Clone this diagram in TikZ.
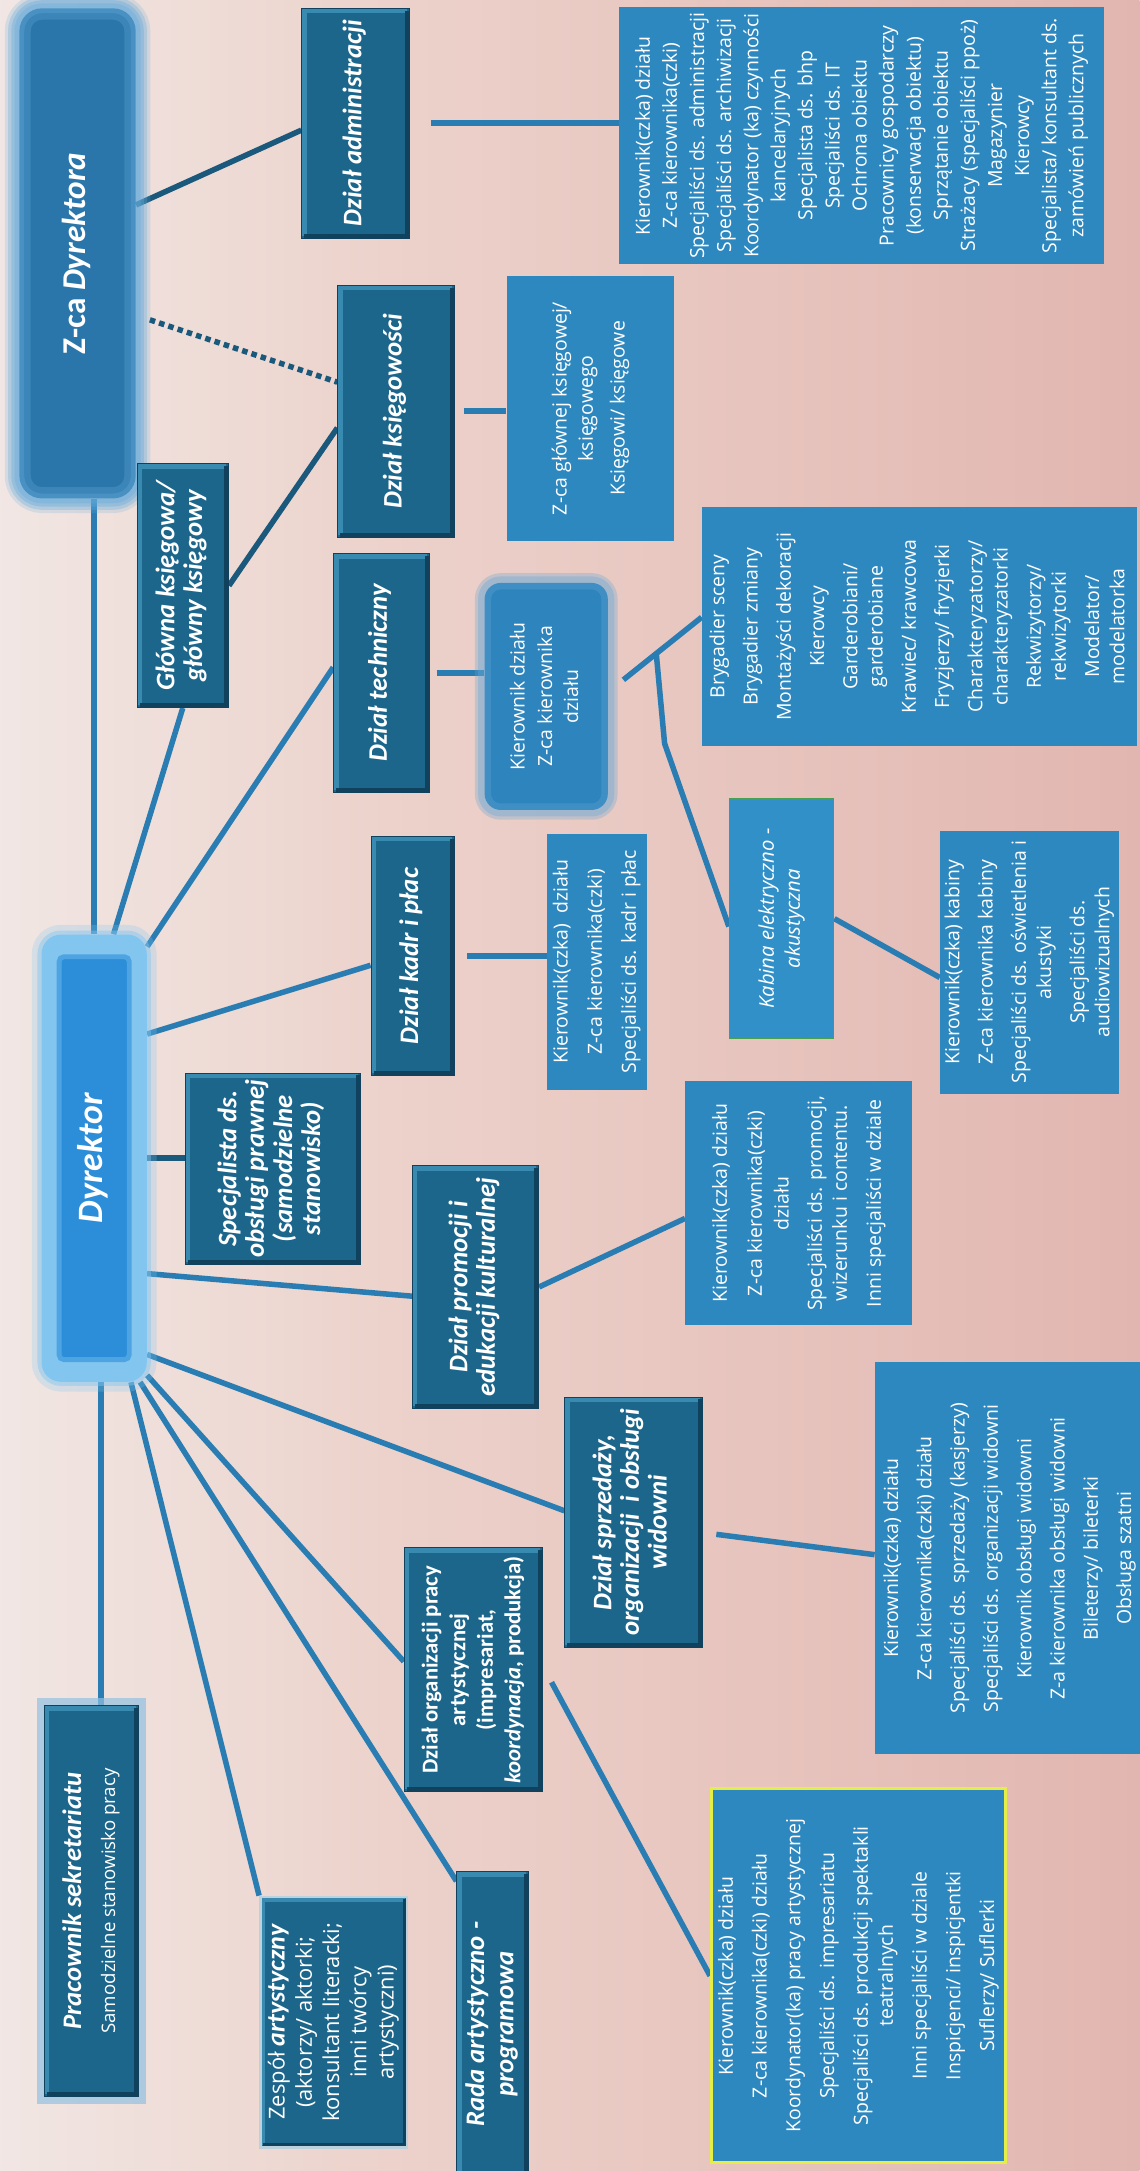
\documentclass[tikz,border=0pt]{standalone}
\usepackage{fontspec}
\setmainfont{Carlito}
\newfontfamily\staffsans{Open Sans}
\usepackage{graphicx}
\usepackage{tikz}
\definecolor{deptblue}{RGB}{28,102,140}
\definecolor{deptdark}{RGB}{16,66,94}
\definecolor{deptlight}{RGB}{56,138,176}
\definecolor{staffblue}{RGB}{46,136,192}
\definecolor{connblue}{RGB}{42,125,178}
\definecolor{conndark}{RGB}{26,88,124}
\definecolor{zcainner}{RGB}{42,118,170}
\definecolor{zcaglow}{RGB}{100,170,218}
\definecolor{dyrinner}{RGB}{44,142,216}
\definecolor{dyrglow}{RGB}{130,198,240}
\definecolor{kierinner}{RGB}{46,132,188}
\definecolor{kierglow}{RGB}{100,166,212}
\definecolor{kabinablue}{RGB}{50,144,200}
\definecolor{kabinaedge}{RGB}{72,160,80}
\definecolor{orgedge}{RGB}{228,238,70}
\definecolor{bgA}{RGB}{245,245,246}
\definecolor{bgB}{RGB}{243,239,238}
\definecolor{bgC}{RGB}{236,210,203}
\definecolor{bgD}{RGB}{226,182,176}
\definecolor{bgE}{RGB}{221,170,166}
\pgfdeclarehorizontalshading{paper}{100bp}{color(0bp)=(bgA); color(18bp)=(bgB); color(42bp)=(bgC); color(75bp)=(bgD); color(100bp)=(bgE)}
\pgfdeclarelayer{back}
\pgfdeclarelayer{wires}
\pgfsetlayers{back,wires,main}
\newcommand{\stafffont}{\staffsans\fontsize{12}{15.5}\selectfont}
\newcommand{\deptfont}{\fontsize{16.5}{17}\selectfont\bfseries\itshape}
\newcommand{\vtext}[1]{\rotatebox{90}{\begin{tabular}{@{}c@{}}#1\end{tabular}}}
\tikzstyle{dept}=[fill=deptblue, draw=deptdark, line width=.6pt, text=white, inner sep=0pt, font=\deptfont,
  path picture={
    \draw[deptlight, line width=3pt] ([shift={(1.5pt,1.5pt)}]path picture bounding box.south west) |- ([shift={(-1.5pt,-1.5pt)}]path picture bounding box.north east);
    \draw[deptdark, line width=2.5pt] ([shift={(1.5pt,1.5pt)}]path picture bounding box.south west) -| ([shift={(-1.5pt,-1.5pt)}]path picture bounding box.north east);
  }]
\tikzstyle{staff}=[fill=staffblue, text=white, inner sep=0pt, font=\stafffont]
\tikzstyle{zcabox}=[fill=zcainner, rounded corners=14pt, text=white, inner sep=0pt,
  font=\fontsize{20.5}{24}\selectfont\bfseries,
  preaction={draw=zcaglow, draw opacity=.2, line width=18pt},
  preaction={draw=zcaglow, draw opacity=.35, line width=10pt},
  postaction={draw=zcaglow, draw opacity=.3, line width=14pt},
  postaction={draw=zcaglow, draw opacity=.35, line width=6pt}]
\tikzstyle{dyrbox}=[fill=dyrglow, rounded corners=12pt, text=white, inner sep=0pt,
  font=\fontsize{22}{26}\selectfont\bfseries\itshape,
  preaction={draw=dyrglow, draw opacity=.25, line width=12pt},
  preaction={draw=dyrglow, draw opacity=.45, line width=5pt},
  path picture={
    \fill[dyrinner, rounded corners=3pt] ([shift={(.38cm,-.48cm)}]path picture bounding box.north west) rectangle ([shift={(-.38cm,.48cm)}]path picture bounding box.south east);
    \draw[dyrinner!60!dyrglow, line width=3pt, rounded corners=3pt] ([shift={(.38cm,-.48cm)}]path picture bounding box.north west) rectangle ([shift={(-.38cm,.48cm)}]path picture bounding box.south east);
  }]
\tikzstyle{kierbox}=[fill=kierinner, rounded corners=10pt, text=white, inner sep=0pt,
  font=\staffsans\fontsize{12}{16}\selectfont,
  preaction={draw=kierglow, draw opacity=.3, line width=12pt},
  postaction={draw=kierglow, draw opacity=.35, line width=8pt}]
\tikzstyle{pracbox}=[dept, preaction={draw=kierglow!70!white, draw opacity=.7, line width=9pt}]
\tikzstyle{kabinabox}=[fill=kabinablue, draw=kabinaedge, line width=1pt, text=white, inner sep=0pt,
  font=\staffsans\fontsize{12.5}{16}\selectfont\itshape]
\tikzstyle{conn}=[draw=connblue, line width=3.4pt]
\tikzstyle{darkconn}=[draw=conndark, line width=3.4pt]
\tikzstyle{dotconn}=[darkconn, dash pattern=on 3.4pt off 2.6pt]
\begin{document}
\begin{tikzpicture}[x=0.03cm, y=-0.03cm]
\useasboundingbox (0,0) rectangle (823,1568);
\begin{pgfonlayer}{back}
\shade[shading=paper] (0,0) rectangle (823,1568);
\end{pgfonlayer}

\node[zcabox, minimum width=2.52cm, minimum height=10.62cm] (zca) at (56,183) {\vtext{Z-ca \textit{Dyrektora}}};
\node[dept, minimum width=2.34cm, minimum height=4.98cm] (admin) at (257,89) {\vtext{Dział administracji}};
\node[staff, font=\staffsans\fontsize{12}{16.7}\selectfont, minimum width=10.5cm, minimum height=5.58cm] (adminlist) at (622,98) {\vtext{Kierownik(czka) działu\\ Z-ca kierownika(czki)\\ Specjaliści ds. administracji\\ Specjaliści ds. archiwizacji\\ Koordynator (ka) czynności\\ kancelaryjnych\\ Specjalista ds. bhp\\ Specjaliści ds. IT\\ Ochrona obiektu\\ Pracownicy gospodarczy\\ (konserwacja obiektu)\\ Sprzątanie obiektu\\ Strażacy (specjaliści ppoż)\\ Magazynier\\ Kierowcy\\ Specjalista/ konsultant ds.\\ zamówień publicznych}};
\node[dept, minimum width=2.52cm, minimum height=5.46cm] (ksieg) at (286,297) {\vtext{Dział księgowości}};
\node[staff, minimum width=3.63cm, minimum height=5.76cm] (zcaglist) at (426.5,295) {\vtext{Z-ca głównej księgowej/\\[.7pt] księgowego\\[4pt] Księgowi/ księgowe}};
\node[dept, minimum width=1.98cm, minimum height=5.28cm] (glowna) at (132,423) {\vtext{Główna księgowa/\\ główny księgowy}};
\node[dyrbox, minimum width=2.28cm, minimum height=9.69cm] (dyr) at (68,836.5) {\vtext{Dyrektor}};
\node[dept, minimum width=2.07cm, minimum height=5.16cm] (tech) at (275.5,486) {\vtext{Dział techniczny}};
\node[kierbox, minimum width=2.67cm, minimum height=4.92cm] (kier) at (394.5,503) {\vtext{Kierownik działu\\[1pt] Z-ca kierownika\\ działu}};
\node[staff, minimum width=9.42cm, minimum height=5.19cm] (techlist) at (664,452.5) {\vtext{Brygadier sceny\\[5pt] Brygadier zmiany\\[5pt] Montażyści dekoracji\\[5pt] Kierowcy\\[5pt] Garderobiani/\\ garderobiane\\[5pt] Krawiec/ krawcowa\\[5pt] Fryzjerzy/ fryzjerki\\[5pt] Charakteryzatorzy/\\ charakteryzatorki\\[5pt] Rekwizytorzy/\\ rekwizytorki\\[5pt] Modelator/\\ modelatorka}};
\node[kabinabox, minimum width=2.25cm, minimum height=5.19cm] (kabina) at (564.5,663.5) {\vtext{Kabina elektryczno -\\ akustyczna}};
\node[staff, minimum width=3.87cm, minimum height=5.7cm] (kabinylist) at (743.5,695) {\vtext{Kierownik(czka) kabiny\\[5pt] Z-ca kierownika kabiny\\[5pt] Specjaliści ds. oświetlenia i\\ akustyki\\[5pt] Specjaliści ds.\\ audiowizualnych}};
\node[dept, minimum width=1.8cm, minimum height=5.19cm] (kadr) at (298,690.5) {\vtext{Dział kadr i płac}};
\node[staff, minimum width=2.16cm, minimum height=5.55cm] (kadrlist) at (431,694.5) {\vtext{Kierownik(czka)~ działu\\[5.5pt] Z-ca kierownika(czki)\\[5.5pt] Specjaliści ds. kadr i płac}};
\node[dept, minimum width=3.78cm, minimum height=4.14cm] (spec) at (197,844) {\vtext{Specjalista ds.\\ obsługi prawnej\\ (samodzielne\\ stanowisko)}};
\node[dept, minimum width=2.73cm, minimum height=5.25cm] (prom) at (343.5,929.5) {\vtext{Dział promocji i\\ edukacji kulturalnej}};
\node[staff, minimum width=4.92cm, minimum height=5.28cm] (promlist) at (577,869) {\vtext{Kierownik(czka) działu\\[6pt] Z-ca kierownika(czki)\\[1pt] działu\\[5pt] Specjaliści ds. promocji,\\ wizerunku i contentu.\\[5.5pt] Inni specjaliści w dziale}};
\node[dept, minimum width=2.97cm, minimum height=5.43cm] (sprz) at (457.5,1099.5) {\vtext{Dział sprzedaży,\\ organizacji~ i obsługi\\ widowni}};
\node[staff, font=\staffsans\fontsize{12}{20.5}\selectfont, minimum width=5.7cm, minimum height=8.49cm] (sprzlist) at (728,1125.5) {\vtext{Kierownik(czka) działu\\ Z-ca kierownika(czki) działu\\ Specjaliści ds. sprzedaży (kasjerzy)\\ Specjaliści ds. organizacji widowni\\ Kierownik obsługi widowni\\ Z-a kierownika obsługi widowni\\ Bileterzy/ bileterki\\ Obsługa szatni}};
\node[dept, font=\fontsize{14}{17}\selectfont\bfseries, minimum width=3.0cm, minimum height=5.28cm] (org) at (342,1206) {\vtext{Dział organizacji pracy\\ artystycznej\\ (impresariat,\\ \textit{koordynacja}, produkcja)}};
\node[staff, draw=orgedge, line width=2pt, minimum width=6.36cm, minimum height=8.1cm] (orglist) at (620,1427) {\vtext{Kierownik(czka) działu\\[5.3pt] Z-ca kierownika(czki) działu\\[5.3pt] Koordynator(ka) pracy artystycznej\\[5.3pt] Specjaliści ds. impresariatu\\[5.3pt] Specjaliści ds. produkcji spektakli\\ teatralnych\\[5.3pt] Inni specjaliści w dziale\\[5.3pt] Inspicjenci/ inspicjentki\\[5.3pt] Suflerzy/ Suflerki}};
\node[pracbox, font=\fontsize{16.5}{21}\selectfont, minimum width=2.04cm, minimum height=8.46cm] (prac) at (66,1373) {\vtext{\textbf{\textit{Pracownik sekretariatu}}\\ {\staffsans\fontsize{11.5}{21}\selectfont Samodzielne stanowisko pracy}}};
\node[dept, draw=white!70!deptblue, line width=1.5pt, font=\staffsans\fontsize{13.5}{16.8}\selectfont, minimum width=3.18cm, minimum height=5.43cm] (zespol) at (241,1460.5) {\vtext{Zespół {\rmfamily\bfseries\itshape\fontsize{16}{16.8}\selectfont artystyczny}\\ (aktorzy/ aktorki;\\ konsultant literacki;\\ inni twórcy\\ artystyczni)}};
\node[dept, font=\fontsize{16.5}{18}\selectfont\bfseries\itshape, minimum width=1.56cm, minimum height=6.6cm] (rada) at (356,1462) {\vtext{Rada artystyczno -\\ programowa}};

\begin{pgfonlayer}{wires}
\draw[darkconn] ([yshift=1.05cm]zca.east) to ([yshift=-.15cm]admin.west);
\draw[dotconn] ([xshift=.3cm,yshift=-1.44cm]zca.east) to ([yshift=.63cm]ksieg.west);
\draw[conn] ([xshift=.45cm]admin.east) to (admin.east -| adminlist.west);
\draw[conn] ([xshift=.2cm]ksieg.east) to (ksieg.east -| zcaglist.west);
\draw[darkconn] (glowna.east) to ([yshift=-.36cm]ksieg.west);
\draw[conn] (dyr.north) to (dyr.north |- zca.south);
\draw[conn] ([xshift=.42cm]dyr.north) to (glowna.south);
\draw[conn] ([yshift=-.27cm]dyr.north east) to ([yshift=.12cm]tech.west);
\draw[conn] ([yshift=2.69cm]dyr.east) to ([yshift=-.2cm]kadr.west);
\draw[darkconn] (dyr.east) to (dyr.east -| spec.west);
\draw[conn] ([yshift=-2.5cm]dyr.east) to ([yshift=-.2cm]prom.west);
\draw[conn] ([yshift=.6cm]dyr.south east) to ([yshift=.25cm]sprz.west);
\draw[conn] ([yshift=.15cm]dyr.south east) to ([yshift=.18cm]org.west);
\draw[conn] ([xshift=-.15cm]dyr.south east) to ([yshift=-.21cm]rada.north west);
\draw[conn] ([xshift=-.35cm]dyr.south east) to (zespol.north west);
\draw[conn] ([xshift=.15cm]dyr.south) to ([xshift=.15cm]dyr.south |- prac.north);
\draw[conn] ([xshift=.15cm]tech.east) to (tech.east -| kier.west);
\draw[conn] ([xshift=.33cm,yshift=.36cm]kier.east) to coordinate[pos=.42] (fork) ([yshift=.2cm]techlist.west);
\coordinate (bend) at (480,537);
\draw[conn] (fork) -- (bend) -- ([yshift=-.17cm]kabina.west);
\draw[conn] (kabina.east) to ([yshift=-.33cm]kabinylist.west);
\draw[conn] ([xshift=.27cm]kadr.east) to (kadr.east -| kadrlist.west);
\draw[conn] (prom.east) to ([yshift=-.33cm]promlist.west);
\draw[conn] ([xshift=.3cm,yshift=-.26cm]sprz.east) to ([yshift=.08cm]sprzlist.west);
\draw[conn] ([xshift=.18cm,yshift=-.27cm]org.east) to (orglist.west);
\end{pgfonlayer}
\end{tikzpicture}
\end{document}
